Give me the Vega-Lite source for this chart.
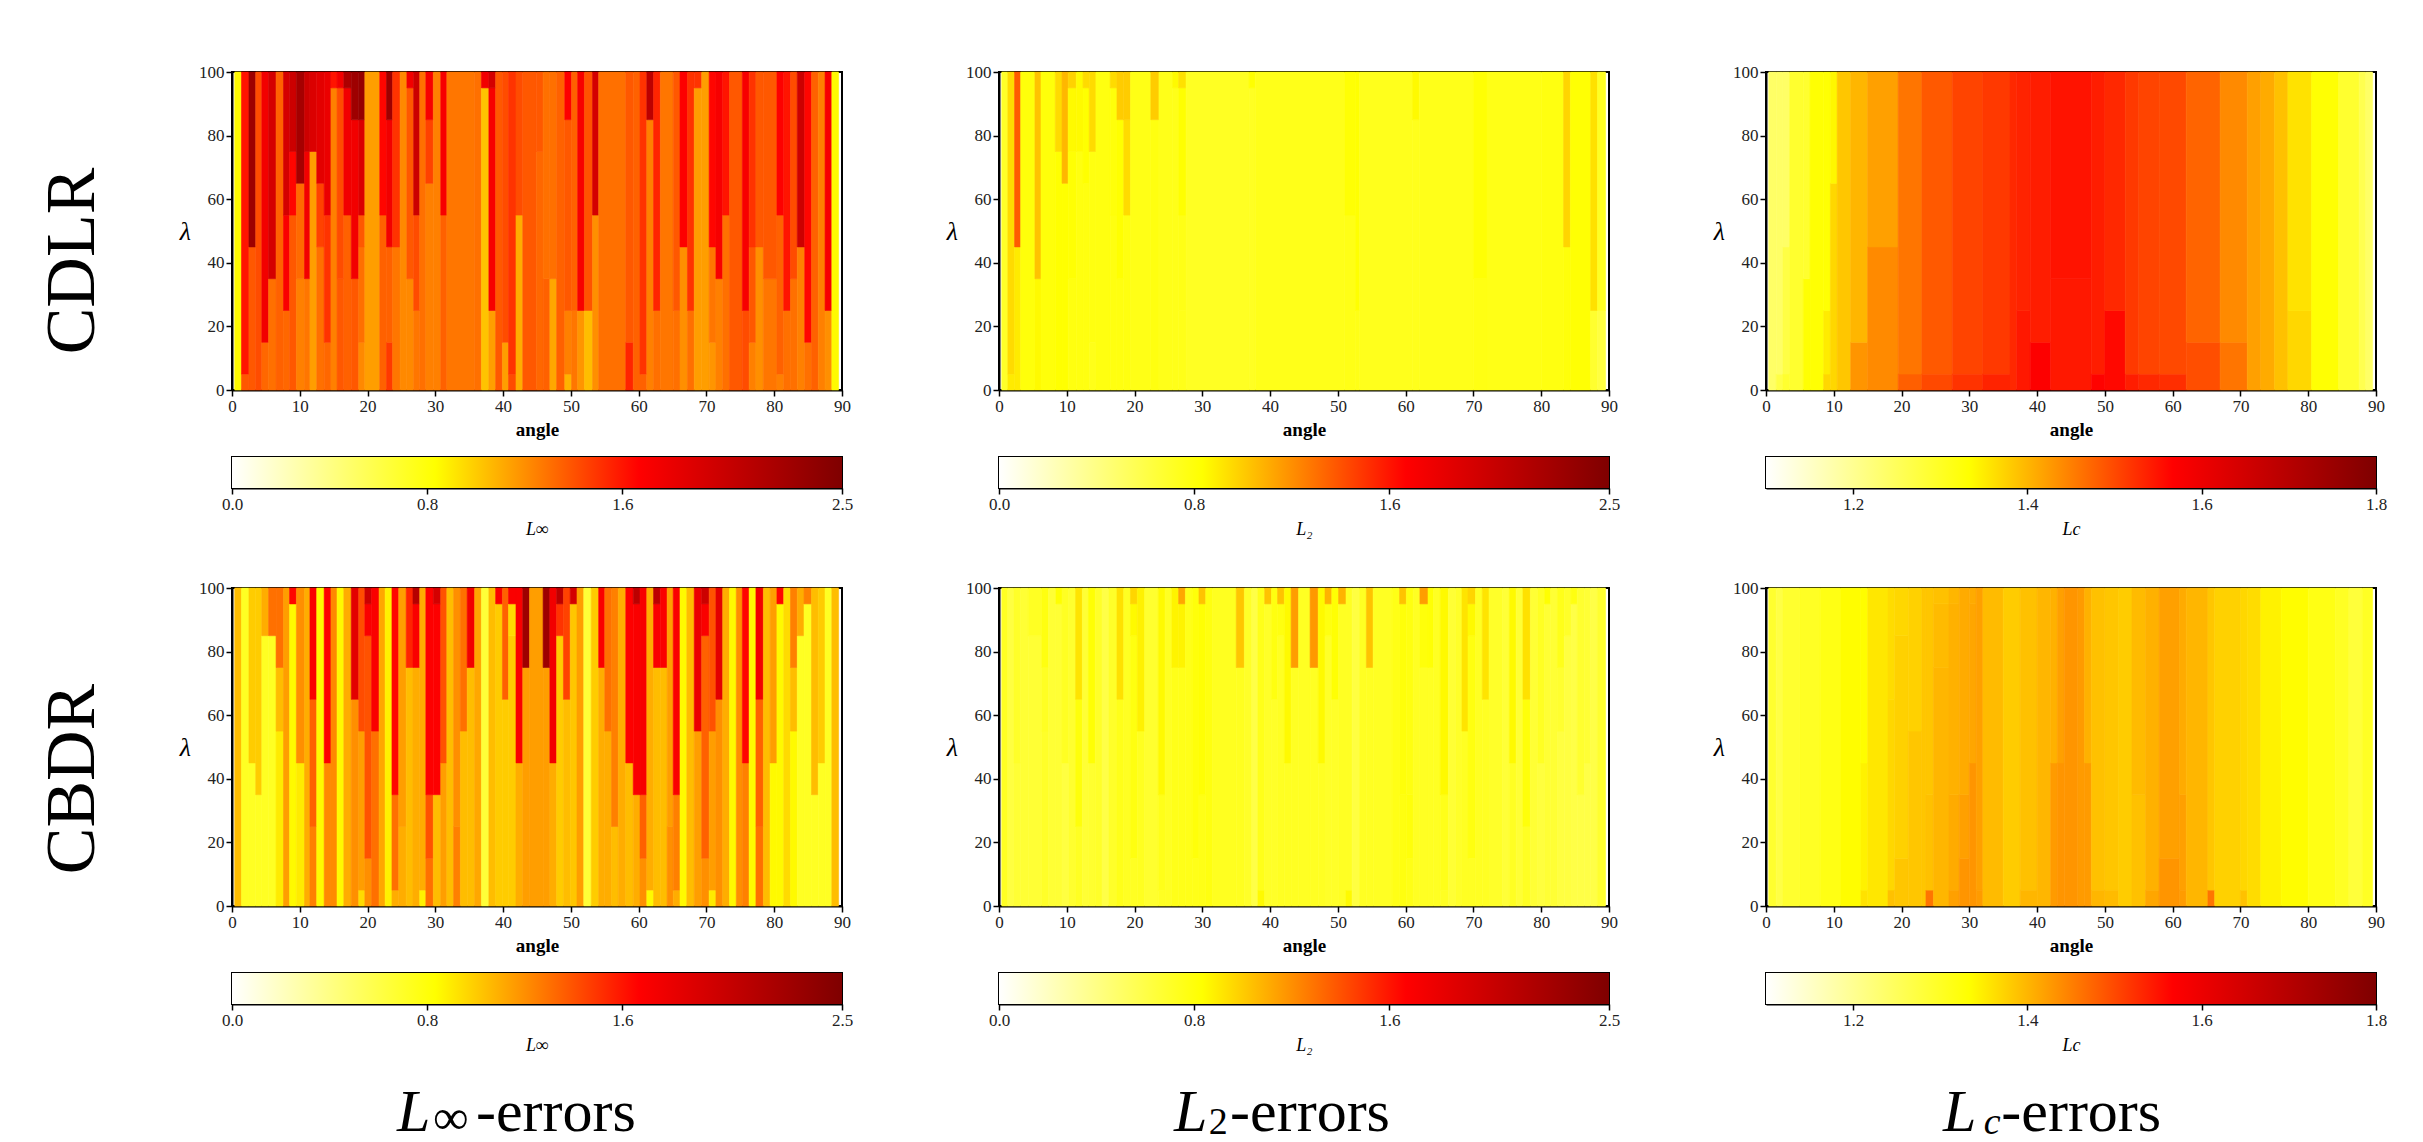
{"$schema":"https://vega.github.io/schema/vega-lite/v6.json","padding":{"left":37,"top":62,"right":0,"bottom":0},"background":"white","spacing":39,"resolve":{"scale":{"color":"independent","stroke":"independent"}},
"config":{"view":{"stroke":"black","strokeWidth":2},"font":"Liberation Serif","axis":{"grid":false,"labelFont":"Liberation Serif","titleFont":"Liberation Serif","labelFontSize":17,"labelColor":"#222222","domainColor":"black","domainWidth":2,"tickColor":"black","tickWidth":1.5,"tickSize":6,"labelOverlap":false,"labelFlush":false,"zindex":1},"title":{"font":"Liberation Serif"}},
"datasets":{
"A":[{"a":0.4,"b":1.4,"l":0,"h":100,"v":0.85},{"a":1.4,"b":2.5,"l":0,"h":5,"v":1.38},{"a":1.4,"b":2.5,"l":5,"h":100,"v":1.6},{"a":2.5,"b":3.5,"l":0,"h":45,"v":1.38},{"a":2.5,"b":3.5,"l":45,"h":100,"v":2.3},{"a":3.5,"b":4.4,"l":0,"h":100,"v":1.42},{"a":4.4,"b":5.4,"l":0,"h":15,"v":1.33},{"a":4.4,"b":5.4,"l":15,"h":100,"v":1.75},{"a":5.4,"b":6.5,"l":0,"h":35,"v":1.3},{"a":5.4,"b":6.5,"l":35,"h":100,"v":1.95},{"a":6.5,"b":7.6,"l":0,"h":100,"v":1.35},{"a":7.6,"b":8.5,"l":0,"h":25,"v":1.33},{"a":7.6,"b":8.5,"l":25,"h":55,"v":1.7},{"a":7.6,"b":8.5,"l":55,"h":100,"v":1.95},{"a":8.5,"b":9.5,"l":0,"h":55,"v":1.38},{"a":8.5,"b":9.5,"l":55,"h":75,"v":1.65},{"a":8.5,"b":9.5,"l":75,"h":100,"v":2.0},{"a":9.5,"b":10.7,"l":0,"h":35,"v":1.25},{"a":9.5,"b":10.7,"l":35,"h":65,"v":1.32},{"a":9.5,"b":10.7,"l":65,"h":100,"v":2.25},{"a":10.7,"b":11.5,"l":0,"h":35,"v":1.28},{"a":10.7,"b":11.5,"l":35,"h":75,"v":1.75},{"a":10.7,"b":11.5,"l":75,"h":100,"v":2.0},{"a":11.5,"b":12.5,"l":0,"h":75,"v":1.15},{"a":11.5,"b":12.5,"l":75,"h":100,"v":1.9},{"a":12.5,"b":13.6,"l":0,"h":45,"v":1.3},{"a":12.5,"b":13.6,"l":45,"h":65,"v":1.45},{"a":12.5,"b":13.6,"l":65,"h":100,"v":1.85},{"a":13.6,"b":14.6,"l":0,"h":15,"v":1.33},{"a":13.6,"b":14.6,"l":15,"h":55,"v":1.5},{"a":13.6,"b":14.6,"l":55,"h":100,"v":1.8},{"a":14.6,"b":15.5,"l":0,"h":95,"v":1.25},{"a":14.6,"b":15.5,"l":95,"h":100,"v":1.6},{"a":15.5,"b":16.5,"l":0,"h":35,"v":1.38},{"a":15.5,"b":16.5,"l":35,"h":95,"v":1.42},{"a":15.5,"b":16.5,"l":95,"h":100,"v":1.75},{"a":16.5,"b":17.6,"l":0,"h":55,"v":1.35},{"a":16.5,"b":17.6,"l":55,"h":95,"v":1.75},{"a":16.5,"b":17.6,"l":95,"h":100,"v":2.2},{"a":17.6,"b":18.7,"l":0,"h":35,"v":1.38},{"a":17.6,"b":18.7,"l":35,"h":85,"v":1.75},{"a":17.6,"b":18.7,"l":85,"h":100,"v":2.3},{"a":18.7,"b":19.6,"l":0,"h":15,"v":1.22},{"a":18.7,"b":19.6,"l":15,"h":45,"v":1.3},{"a":18.7,"b":19.6,"l":45,"h":55,"v":1.38},{"a":18.7,"b":19.6,"l":55,"h":85,"v":1.9},{"a":18.7,"b":19.6,"l":85,"h":100,"v":2.35},{"a":19.6,"b":21.8,"l":0,"h":100,"v":1.15},{"a":21.8,"b":22.8,"l":0,"h":55,"v":1.35},{"a":21.8,"b":22.8,"l":55,"h":100,"v":1.65},{"a":22.8,"b":23.7,"l":0,"h":15,"v":1.48},{"a":22.8,"b":23.7,"l":15,"h":45,"v":1.35},{"a":22.8,"b":23.7,"l":45,"h":85,"v":1.75},{"a":22.8,"b":23.7,"l":85,"h":100,"v":2.3},{"a":23.7,"b":24.8,"l":0,"h":45,"v":1.28},{"a":23.7,"b":24.8,"l":45,"h":100,"v":1.5},{"a":24.8,"b":25.8,"l":0,"h":100,"v":1.22},{"a":25.8,"b":26.8,"l":0,"h":35,"v":1.22},{"a":25.8,"b":26.8,"l":35,"h":95,"v":1.38},{"a":25.8,"b":26.8,"l":95,"h":100,"v":1.75},{"a":26.8,"b":27.7,"l":0,"h":25,"v":1.28},{"a":26.8,"b":27.7,"l":25,"h":55,"v":1.42},{"a":26.8,"b":27.7,"l":55,"h":100,"v":2.0},{"a":27.7,"b":28.6,"l":0,"h":100,"v":1.3},{"a":28.6,"b":29.7,"l":0,"h":65,"v":1.25},{"a":28.6,"b":29.7,"l":65,"h":85,"v":1.45},{"a":28.6,"b":29.7,"l":85,"h":100,"v":1.72},{"a":29.7,"b":30.8,"l":0,"h":100,"v":1.25},{"a":30.8,"b":31.7,"l":0,"h":55,"v":1.35},{"a":30.8,"b":31.7,"l":55,"h":100,"v":1.72},{"a":31.7,"b":35.8,"l":0,"h":100,"v":1.28},{"a":35.8,"b":36.8,"l":0,"h":100,"v":1.3},{"a":36.8,"b":37.9,"l":0,"h":95,"v":1.03},{"a":36.8,"b":37.9,"l":95,"h":100,"v":1.75},{"a":37.9,"b":38.9,"l":0,"h":25,"v":1.15},{"a":37.9,"b":38.9,"l":25,"h":95,"v":1.72},{"a":37.9,"b":38.9,"l":95,"h":100,"v":1.95},{"a":38.9,"b":39.9,"l":0,"h":100,"v":1.38},{"a":39.9,"b":40.8,"l":0,"h":15,"v":1.15},{"a":39.9,"b":40.8,"l":15,"h":100,"v":1.42},{"a":40.8,"b":41.9,"l":0,"h":5,"v":1.42},{"a":40.8,"b":41.9,"l":5,"h":100,"v":1.5},{"a":41.9,"b":42.9,"l":0,"h":55,"v":1.1},{"a":41.9,"b":42.9,"l":55,"h":100,"v":1.42},{"a":42.9,"b":44.9,"l":0,"h":100,"v":1.38},{"a":44.9,"b":45.9,"l":0,"h":75,"v":1.33},{"a":44.9,"b":45.9,"l":75,"h":100,"v":1.38},{"a":45.9,"b":46.9,"l":0,"h":35,"v":1.35},{"a":45.9,"b":46.9,"l":35,"h":100,"v":1.3},{"a":46.9,"b":47.9,"l":0,"h":35,"v":1.12},{"a":46.9,"b":47.9,"l":35,"h":100,"v":1.3},{"a":47.9,"b":49.1,"l":0,"h":100,"v":1.35},{"a":49.1,"b":50.1,"l":0,"h":5,"v":1.08},{"a":49.1,"b":50.1,"l":5,"h":25,"v":1.25},{"a":49.1,"b":50.1,"l":25,"h":85,"v":1.38},{"a":49.1,"b":50.1,"l":85,"h":100,"v":1.68},{"a":50.1,"b":51,"l":0,"h":25,"v":1.28},{"a":50.1,"b":51,"l":25,"h":100,"v":1.35},{"a":51,"b":52,"l":0,"h":25,"v":1.18},{"a":51,"b":52,"l":25,"h":100,"v":1.72},{"a":52,"b":53.2,"l":0,"h":25,"v":1.05},{"a":52,"b":53.2,"l":25,"h":100,"v":1.4},{"a":53.2,"b":54.1,"l":0,"h":55,"v":1.2},{"a":53.2,"b":54.1,"l":55,"h":100,"v":1.95},{"a":54.1,"b":58.1,"l":0,"h":100,"v":1.3},{"a":58.1,"b":59.2,"l":0,"h":15,"v":1.55},{"a":58.1,"b":59.2,"l":15,"h":100,"v":1.38},{"a":59.2,"b":60.2,"l":0,"h":100,"v":1.35},{"a":60.2,"b":61.2,"l":0,"h":5,"v":1.35},{"a":60.2,"b":61.2,"l":5,"h":100,"v":1.5},{"a":61.2,"b":62.2,"l":0,"h":85,"v":1.25},{"a":61.2,"b":62.2,"l":85,"h":100,"v":2.1},{"a":62.2,"b":63.2,"l":0,"h":25,"v":1.3},{"a":62.2,"b":63.2,"l":25,"h":100,"v":1.55},{"a":63.2,"b":65.1,"l":0,"h":100,"v":1.28},{"a":65.1,"b":66.1,"l":0,"h":25,"v":1.3},{"a":65.1,"b":66.1,"l":25,"h":100,"v":1.38},{"a":66.1,"b":67.2,"l":0,"h":45,"v":1.2},{"a":66.1,"b":67.2,"l":45,"h":100,"v":1.68},{"a":67.2,"b":68.2,"l":0,"h":25,"v":1.3},{"a":67.2,"b":68.2,"l":25,"h":100,"v":1.5},{"a":68.2,"b":69.3,"l":0,"h":95,"v":1.15},{"a":68.2,"b":69.3,"l":95,"h":100,"v":1.5},{"a":69.3,"b":70.4,"l":0,"h":100,"v":1.15},{"a":70.4,"b":71.4,"l":0,"h":15,"v":1.18},{"a":70.4,"b":71.4,"l":15,"h":45,"v":1.28},{"a":70.4,"b":71.4,"l":45,"h":100,"v":1.65},{"a":71.4,"b":72.4,"l":0,"h":35,"v":1.25},{"a":71.4,"b":72.4,"l":35,"h":100,"v":1.72},{"a":72.4,"b":73.4,"l":0,"h":55,"v":1.3},{"a":72.4,"b":73.4,"l":55,"h":100,"v":1.6},{"a":73.4,"b":75.3,"l":0,"h":100,"v":1.38},{"a":75.3,"b":76.3,"l":0,"h":25,"v":1.42},{"a":75.3,"b":76.3,"l":25,"h":100,"v":1.72},{"a":76.3,"b":77.3,"l":0,"h":15,"v":1.25},{"a":76.3,"b":77.3,"l":15,"h":45,"v":1.38},{"a":76.3,"b":77.3,"l":45,"h":100,"v":1.5},{"a":77.3,"b":78.4,"l":0,"h":45,"v":1.2},{"a":77.3,"b":78.4,"l":45,"h":100,"v":1.38},{"a":78.4,"b":80.4,"l":0,"h":35,"v":1.28},{"a":78.4,"b":80.4,"l":35,"h":100,"v":1.38},{"a":80.4,"b":81.4,"l":0,"h":5,"v":1.25},{"a":80.4,"b":81.4,"l":5,"h":55,"v":1.35},{"a":80.4,"b":81.4,"l":55,"h":100,"v":1.68},{"a":81.4,"b":82.4,"l":0,"h":25,"v":1.3},{"a":81.4,"b":82.4,"l":25,"h":100,"v":1.6},{"a":82.4,"b":83.4,"l":0,"h":35,"v":1.3},{"a":82.4,"b":83.4,"l":35,"h":100,"v":1.42},{"a":83.4,"b":84.5,"l":0,"h":45,"v":1.25},{"a":83.4,"b":84.5,"l":45,"h":100,"v":2.0},{"a":84.5,"b":85.5,"l":0,"h":15,"v":1.3},{"a":84.5,"b":85.5,"l":15,"h":100,"v":1.65},{"a":85.5,"b":86.5,"l":0,"h":100,"v":1.35},{"a":86.5,"b":87.5,"l":0,"h":100,"v":1.25},{"a":87.5,"b":88.5,"l":0,"h":25,"v":1.2},{"a":87.5,"b":88.5,"l":25,"h":100,"v":1.72},{"a":88.5,"b":89.5,"l":0,"h":100,"v":0.85}],
"B":[{"a":0.4,"b":1.3,"l":0,"h":100,"v":0.7},{"a":1.3,"b":2.3,"l":0,"h":5,"v":0.9},{"a":1.3,"b":2.3,"l":5,"h":100,"v":0.95},{"a":2.3,"b":3.2,"l":0,"h":45,"v":0.9},{"a":2.3,"b":3.2,"l":45,"h":100,"v":1.37},{"a":3.2,"b":5.3,"l":0,"h":100,"v":0.8},{"a":5.3,"b":6.2,"l":0,"h":35,"v":0.85},{"a":5.3,"b":6.2,"l":35,"h":100,"v":1.03},{"a":6.2,"b":8.3,"l":0,"h":100,"v":0.8},{"a":8.3,"b":9.3,"l":0,"h":75,"v":0.83},{"a":8.3,"b":9.3,"l":75,"h":100,"v":0.95},{"a":9.3,"b":10.2,"l":0,"h":65,"v":0.83},{"a":9.3,"b":10.2,"l":65,"h":100,"v":1.07},{"a":10.2,"b":11.4,"l":0,"h":35,"v":0.78},{"a":10.2,"b":11.4,"l":35,"h":75,"v":0.82},{"a":10.2,"b":11.4,"l":75,"h":95,"v":0.85},{"a":10.2,"b":11.4,"l":95,"h":100,"v":0.98},{"a":11.4,"b":12.4,"l":0,"h":75,"v":0.78},{"a":11.4,"b":12.4,"l":75,"h":100,"v":0.85},{"a":12.4,"b":13.3,"l":0,"h":65,"v":0.78},{"a":12.4,"b":13.3,"l":65,"h":95,"v":0.83},{"a":12.4,"b":13.3,"l":95,"h":100,"v":0.95},{"a":13.3,"b":14.3,"l":0,"h":15,"v":0.75},{"a":13.3,"b":14.3,"l":15,"h":75,"v":0.78},{"a":13.3,"b":14.3,"l":75,"h":100,"v":0.95},{"a":14.3,"b":16.4,"l":0,"h":100,"v":0.78},{"a":16.4,"b":17.4,"l":0,"h":55,"v":0.78},{"a":16.4,"b":17.4,"l":55,"h":95,"v":0.8},{"a":16.4,"b":17.4,"l":95,"h":100,"v":0.95},{"a":17.4,"b":18.4,"l":0,"h":35,"v":0.78},{"a":17.4,"b":18.4,"l":35,"h":85,"v":0.83},{"a":17.4,"b":18.4,"l":85,"h":100,"v":1.0},{"a":18.4,"b":19.4,"l":0,"h":55,"v":0.78},{"a":18.4,"b":19.4,"l":55,"h":85,"v":0.95},{"a":18.4,"b":19.4,"l":85,"h":100,"v":1.0},{"a":19.4,"b":22.4,"l":0,"h":100,"v":0.76},{"a":22.4,"b":23.6,"l":0,"h":85,"v":0.78},{"a":22.4,"b":23.6,"l":85,"h":100,"v":1.0},{"a":23.6,"b":25.6,"l":0,"h":100,"v":0.75},{"a":25.6,"b":26.5,"l":0,"h":95,"v":0.75},{"a":25.6,"b":26.5,"l":95,"h":100,"v":0.85},{"a":26.5,"b":27.6,"l":0,"h":25,"v":0.75},{"a":26.5,"b":27.6,"l":25,"h":55,"v":0.76},{"a":26.5,"b":27.6,"l":55,"h":95,"v":0.83},{"a":26.5,"b":27.6,"l":95,"h":100,"v":0.93},{"a":27.6,"b":36.9,"l":0,"h":100,"v":0.72},{"a":36.9,"b":37.8,"l":0,"h":95,"v":0.72},{"a":36.9,"b":37.8,"l":95,"h":100,"v":0.83},{"a":37.8,"b":51,"l":0,"h":100,"v":0.75},{"a":51,"b":52.6,"l":0,"h":55,"v":0.76},{"a":51,"b":52.6,"l":55,"h":100,"v":0.82},{"a":52.6,"b":53.2,"l":0,"h":25,"v":0.76},{"a":52.6,"b":53.2,"l":25,"h":100,"v":0.83},{"a":53.2,"b":61,"l":0,"h":100,"v":0.74},{"a":61,"b":62,"l":0,"h":85,"v":0.74},{"a":61,"b":62,"l":85,"h":100,"v":0.85},{"a":62,"b":70,"l":0,"h":100,"v":0.75},{"a":70,"b":72,"l":0,"h":35,"v":0.77},{"a":70,"b":72,"l":35,"h":100,"v":0.82},{"a":72,"b":80,"l":0,"h":100,"v":0.76},{"a":80,"b":83.3,"l":0,"h":100,"v":0.78},{"a":83.3,"b":84.3,"l":0,"h":45,"v":0.8},{"a":83.3,"b":84.3,"l":45,"h":100,"v":0.97},{"a":84.3,"b":87.3,"l":0,"h":100,"v":0.82},{"a":87.3,"b":88.3,"l":0,"h":25,"v":0.68},{"a":87.3,"b":88.3,"l":25,"h":100,"v":0.93},{"a":88.3,"b":89.5,"l":0,"h":25,"v":0.62},{"a":88.3,"b":89.5,"l":25,"h":100,"v":0.72}],
"C":[{"a":0.4,"b":1.5,"l":0,"h":100,"v":1.24},{"a":1.5,"b":2.5,"l":0,"h":5,"v":1.27},{"a":1.5,"b":2.5,"l":5,"h":100,"v":1.24},{"a":2.5,"b":3.5,"l":0,"h":5,"v":1.29},{"a":2.5,"b":3.5,"l":5,"h":45,"v":1.27},{"a":2.5,"b":3.5,"l":45,"h":100,"v":1.24},{"a":3.5,"b":5.5,"l":0,"h":100,"v":1.29},{"a":5.5,"b":6.5,"l":0,"h":35,"v":1.33},{"a":5.5,"b":6.5,"l":35,"h":100,"v":1.29},{"a":6.5,"b":8.5,"l":0,"h":100,"v":1.33},{"a":8.5,"b":9.5,"l":0,"h":5,"v":1.37},{"a":8.5,"b":9.5,"l":5,"h":25,"v":1.35},{"a":8.5,"b":9.5,"l":25,"h":100,"v":1.33},{"a":9.5,"b":10.5,"l":0,"h":65,"v":1.37},{"a":9.5,"b":10.5,"l":65,"h":100,"v":1.34},{"a":10.5,"b":12.5,"l":0,"h":100,"v":1.385},{"a":12.5,"b":15,"l":0,"h":15,"v":1.43},{"a":12.5,"b":15,"l":15,"h":100,"v":1.4},{"a":15,"b":19.5,"l":0,"h":45,"v":1.44},{"a":15,"b":19.5,"l":45,"h":100,"v":1.42},{"a":19.5,"b":23,"l":0,"h":5,"v":1.48},{"a":19.5,"b":23,"l":5,"h":100,"v":1.46},{"a":23,"b":27.5,"l":0,"h":5,"v":1.5},{"a":23,"b":27.5,"l":5,"h":100,"v":1.485},{"a":27.5,"b":32,"l":0,"h":5,"v":1.52},{"a":27.5,"b":32,"l":5,"h":100,"v":1.505},{"a":32,"b":36,"l":0,"h":5,"v":1.535},{"a":32,"b":36,"l":5,"h":100,"v":1.515},{"a":36,"b":37,"l":0,"h":100,"v":1.53},{"a":37,"b":39,"l":0,"h":25,"v":1.545},{"a":37,"b":39,"l":25,"h":100,"v":1.535},{"a":39,"b":42,"l":0,"h":15,"v":1.57},{"a":39,"b":42,"l":15,"h":100,"v":1.54},{"a":42,"b":48,"l":0,"h":35,"v":1.545},{"a":42,"b":48,"l":35,"h":100,"v":1.55},{"a":48,"b":50,"l":0,"h":5,"v":1.565},{"a":48,"b":50,"l":5,"h":100,"v":1.54},{"a":50,"b":53,"l":0,"h":25,"v":1.56},{"a":50,"b":53,"l":25,"h":100,"v":1.53},{"a":53,"b":55,"l":0,"h":5,"v":1.54},{"a":53,"b":55,"l":5,"h":100,"v":1.515},{"a":55,"b":58,"l":0,"h":5,"v":1.53},{"a":55,"b":58,"l":5,"h":100,"v":1.505},{"a":58,"b":62,"l":0,"h":5,"v":1.525},{"a":58,"b":62,"l":5,"h":100,"v":1.5},{"a":62,"b":67,"l":0,"h":15,"v":1.495},{"a":62,"b":67,"l":15,"h":100,"v":1.475},{"a":67,"b":71,"l":0,"h":15,"v":1.46},{"a":67,"b":71,"l":15,"h":100,"v":1.44},{"a":71,"b":73,"l":0,"h":100,"v":1.42},{"a":73,"b":75,"l":0,"h":100,"v":1.41},{"a":75,"b":77,"l":0,"h":100,"v":1.39},{"a":77,"b":80.5,"l":0,"h":25,"v":1.37},{"a":77,"b":80.5,"l":25,"h":100,"v":1.36},{"a":80.5,"b":84.5,"l":0,"h":100,"v":1.33},{"a":84.5,"b":87.5,"l":0,"h":100,"v":1.29},{"a":87.5,"b":88.5,"l":0,"h":100,"v":1.26},{"a":88.5,"b":89.5,"l":0,"h":100,"v":1.24}],
"D":[{"a":0.4,"b":1.4,"l":0,"h":100,"v":1.05},{"a":1.4,"b":2.5,"l":0,"h":100,"v":0.72},{"a":2.5,"b":3.5,"l":0,"h":45,"v":0.72},{"a":2.5,"b":3.5,"l":45,"h":100,"v":1.0},{"a":3.5,"b":4.4,"l":0,"h":35,"v":0.72},{"a":3.5,"b":4.4,"l":35,"h":100,"v":1.0},{"a":4.4,"b":5.4,"l":0,"h":85,"v":0.72},{"a":4.4,"b":5.4,"l":85,"h":100,"v":1.1},{"a":5.4,"b":6.5,"l":0,"h":85,"v":0.72},{"a":5.4,"b":6.5,"l":85,"h":100,"v":1.3},{"a":6.5,"b":7.6,"l":0,"h":55,"v":0.9},{"a":6.5,"b":7.6,"l":55,"h":75,"v":1.05},{"a":6.5,"b":7.6,"l":75,"h":100,"v":1.3},{"a":7.6,"b":8.5,"l":0,"h":100,"v":1.15},{"a":8.5,"b":9.5,"l":0,"h":95,"v":0.85},{"a":8.5,"b":9.5,"l":95,"h":100,"v":1.65},{"a":9.5,"b":10.7,"l":0,"h":45,"v":0.9},{"a":9.5,"b":10.7,"l":45,"h":100,"v":1.2},{"a":10.7,"b":11.5,"l":0,"h":100,"v":1.1},{"a":11.5,"b":12.5,"l":0,"h":25,"v":1.25},{"a":11.5,"b":12.5,"l":25,"h":65,"v":1.35},{"a":11.5,"b":12.5,"l":65,"h":100,"v":1.7},{"a":12.5,"b":13.6,"l":0,"h":100,"v":0.85},{"a":13.6,"b":14.6,"l":0,"h":45,"v":1.22},{"a":13.6,"b":14.6,"l":45,"h":100,"v":1.68},{"a":14.6,"b":15.5,"l":0,"h":100,"v":1.22},{"a":15.5,"b":16.5,"l":0,"h":100,"v":0.85},{"a":16.5,"b":17.6,"l":0,"h":100,"v":1.1},{"a":17.6,"b":18.7,"l":0,"h":65,"v":1.2},{"a":17.6,"b":18.7,"l":65,"h":100,"v":1.85},{"a":18.7,"b":19.6,"l":0,"h":5,"v":0.95},{"a":18.7,"b":19.6,"l":5,"h":55,"v":1.15},{"a":18.7,"b":19.6,"l":55,"h":100,"v":1.42},{"a":19.6,"b":20.6,"l":0,"h":15,"v":1.2},{"a":19.6,"b":20.6,"l":15,"h":85,"v":1.4},{"a":19.6,"b":20.6,"l":85,"h":95,"v":1.7},{"a":19.6,"b":20.6,"l":95,"h":100,"v":2.0},{"a":20.6,"b":21.7,"l":0,"h":55,"v":1.3},{"a":20.6,"b":21.7,"l":55,"h":100,"v":1.7},{"a":21.7,"b":22.6,"l":0,"h":100,"v":1.12},{"a":22.6,"b":23.6,"l":0,"h":100,"v":0.88},{"a":23.6,"b":24.6,"l":0,"h":5,"v":1.1},{"a":23.6,"b":24.6,"l":5,"h":35,"v":1.3},{"a":23.6,"b":24.6,"l":35,"h":100,"v":1.65},{"a":24.6,"b":25.7,"l":0,"h":25,"v":1.1},{"a":24.6,"b":25.7,"l":25,"h":100,"v":1.15},{"a":25.7,"b":26.7,"l":0,"h":75,"v":1.05},{"a":25.7,"b":26.7,"l":75,"h":100,"v":1.55},{"a":26.7,"b":27.7,"l":0,"h":75,"v":1.1},{"a":26.7,"b":27.7,"l":75,"h":95,"v":1.7},{"a":26.7,"b":27.7,"l":95,"h":100,"v":2.15},{"a":27.7,"b":28.6,"l":0,"h":5,"v":0.88},{"a":27.7,"b":28.6,"l":5,"h":100,"v":1.1},{"a":28.6,"b":29.7,"l":0,"h":15,"v":1.3},{"a":28.6,"b":29.7,"l":15,"h":35,"v":1.4},{"a":28.6,"b":29.7,"l":35,"h":100,"v":1.68},{"a":29.7,"b":30.8,"l":0,"h":35,"v":1.05},{"a":29.7,"b":30.8,"l":35,"h":95,"v":1.68},{"a":29.7,"b":30.8,"l":95,"h":100,"v":1.95},{"a":30.8,"b":31.7,"l":0,"h":45,"v":1.15},{"a":30.8,"b":31.7,"l":45,"h":100,"v":1.4},{"a":31.7,"b":32.7,"l":0,"h":100,"v":1.05},{"a":32.7,"b":33.7,"l":0,"h":25,"v":1.25},{"a":32.7,"b":33.7,"l":25,"h":100,"v":1.2},{"a":33.7,"b":34.7,"l":0,"h":55,"v":1.05},{"a":33.7,"b":34.7,"l":55,"h":100,"v":1.3},{"a":34.7,"b":35.8,"l":0,"h":75,"v":1.05},{"a":34.7,"b":35.8,"l":75,"h":100,"v":1.75},{"a":35.8,"b":36.8,"l":0,"h":100,"v":1.12},{"a":36.8,"b":37.9,"l":0,"h":100,"v":0.65},{"a":37.9,"b":38.9,"l":0,"h":100,"v":1.05},{"a":38.9,"b":39.9,"l":0,"h":95,"v":1.0},{"a":38.9,"b":39.9,"l":95,"h":100,"v":1.7},{"a":39.9,"b":40.8,"l":0,"h":65,"v":1.0},{"a":39.9,"b":40.8,"l":65,"h":100,"v":1.35},{"a":40.8,"b":41.9,"l":0,"h":85,"v":1.0},{"a":40.8,"b":41.9,"l":85,"h":95,"v":0.95},{"a":40.8,"b":41.9,"l":95,"h":100,"v":1.7},{"a":41.9,"b":42.9,"l":0,"h":45,"v":1.1},{"a":41.9,"b":42.9,"l":45,"h":100,"v":1.7},{"a":42.9,"b":43.9,"l":0,"h":75,"v":1.15},{"a":42.9,"b":43.9,"l":75,"h":100,"v":2.3},{"a":43.9,"b":45.9,"l":0,"h":100,"v":1.15},{"a":45.9,"b":46.9,"l":0,"h":75,"v":1.15},{"a":45.9,"b":46.9,"l":75,"h":100,"v":2.3},{"a":46.9,"b":47.9,"l":0,"h":45,"v":1.1},{"a":46.9,"b":47.9,"l":45,"h":100,"v":1.75},{"a":47.9,"b":48.9,"l":0,"h":85,"v":1.0},{"a":47.9,"b":48.9,"l":85,"h":95,"v":1.5},{"a":47.9,"b":48.9,"l":95,"h":100,"v":2.1},{"a":48.9,"b":49.9,"l":0,"h":65,"v":1.05},{"a":48.9,"b":49.9,"l":65,"h":100,"v":1.45},{"a":49.9,"b":50.9,"l":0,"h":95,"v":1.02},{"a":49.9,"b":50.9,"l":95,"h":100,"v":1.95},{"a":50.9,"b":51.9,"l":0,"h":100,"v":1.15},{"a":51.9,"b":53,"l":0,"h":100,"v":0.65},{"a":53,"b":54.1,"l":0,"h":100,"v":1.0},{"a":54.1,"b":55,"l":0,"h":75,"v":1.1},{"a":54.1,"b":55,"l":75,"h":100,"v":1.7},{"a":55,"b":56,"l":0,"h":55,"v":1.1},{"a":55,"b":56,"l":55,"h":100,"v":1.3},{"a":56,"b":57,"l":0,"h":25,"v":1.05},{"a":56,"b":57,"l":25,"h":100,"v":1.25},{"a":57,"b":58.1,"l":0,"h":100,"v":1.1},{"a":58.1,"b":59.2,"l":0,"h":45,"v":1.05},{"a":58.1,"b":59.2,"l":45,"h":100,"v":1.68},{"a":59.2,"b":60.2,"l":0,"h":35,"v":1.1},{"a":59.2,"b":60.2,"l":35,"h":95,"v":1.7},{"a":59.2,"b":60.2,"l":95,"h":100,"v":2.1},{"a":60.2,"b":61.2,"l":0,"h":15,"v":1.2},{"a":60.2,"b":61.2,"l":15,"h":35,"v":1.35},{"a":60.2,"b":61.2,"l":35,"h":100,"v":1.72},{"a":61.2,"b":62.2,"l":0,"h":5,"v":0.85},{"a":61.2,"b":62.2,"l":5,"h":100,"v":1.1},{"a":62.2,"b":63.2,"l":0,"h":75,"v":1.05},{"a":62.2,"b":63.2,"l":75,"h":95,"v":1.7},{"a":62.2,"b":63.2,"l":95,"h":100,"v":2.1},{"a":63.2,"b":64.2,"l":0,"h":75,"v":1.05},{"a":63.2,"b":64.2,"l":75,"h":100,"v":1.7},{"a":64.2,"b":65.1,"l":0,"h":25,"v":1.2},{"a":64.2,"b":65.1,"l":25,"h":100,"v":1.15},{"a":65.1,"b":66.1,"l":0,"h":5,"v":1.1},{"a":65.1,"b":66.1,"l":5,"h":35,"v":1.25},{"a":65.1,"b":66.1,"l":35,"h":100,"v":1.7},{"a":66.1,"b":67.1,"l":0,"h":100,"v":0.85},{"a":67.1,"b":68.2,"l":0,"h":100,"v":1.05},{"a":68.2,"b":69.3,"l":0,"h":55,"v":1.15},{"a":68.2,"b":69.3,"l":55,"h":100,"v":1.8},{"a":69.3,"b":70.4,"l":0,"h":15,"v":1.2},{"a":69.3,"b":70.4,"l":15,"h":85,"v":1.35},{"a":69.3,"b":70.4,"l":85,"h":95,"v":1.7},{"a":69.3,"b":70.4,"l":95,"h":100,"v":2.0},{"a":70.4,"b":71.4,"l":0,"h":5,"v":0.9},{"a":70.4,"b":71.4,"l":5,"h":55,"v":1.15},{"a":70.4,"b":71.4,"l":55,"h":100,"v":1.4},{"a":71.4,"b":72.4,"l":0,"h":65,"v":1.2},{"a":71.4,"b":72.4,"l":65,"h":100,"v":1.85},{"a":72.4,"b":73.4,"l":0,"h":100,"v":1.1},{"a":73.4,"b":74.4,"l":0,"h":100,"v":0.85},{"a":74.4,"b":75.3,"l":0,"h":100,"v":1.2},{"a":75.3,"b":76.3,"l":0,"h":45,"v":1.25},{"a":75.3,"b":76.3,"l":45,"h":100,"v":1.65},{"a":76.3,"b":77.3,"l":0,"h":100,"v":0.85},{"a":77.3,"b":78.4,"l":0,"h":25,"v":1.3},{"a":77.3,"b":78.4,"l":25,"h":65,"v":1.35},{"a":77.3,"b":78.4,"l":65,"h":100,"v":1.75},{"a":78.4,"b":79.4,"l":0,"h":100,"v":1.05},{"a":79.4,"b":80.4,"l":0,"h":45,"v":0.85},{"a":79.4,"b":80.4,"l":45,"h":100,"v":1.15},{"a":80.4,"b":81.4,"l":0,"h":95,"v":0.85},{"a":80.4,"b":81.4,"l":95,"h":100,"v":1.65},{"a":81.4,"b":82.4,"l":0,"h":100,"v":0.95},{"a":82.4,"b":83.4,"l":0,"h":55,"v":0.85},{"a":82.4,"b":83.4,"l":55,"h":75,"v":1.05},{"a":82.4,"b":83.4,"l":75,"h":100,"v":1.25},{"a":83.4,"b":84.4,"l":0,"h":85,"v":0.72},{"a":83.4,"b":84.4,"l":85,"h":100,"v":1.1},{"a":84.4,"b":85.5,"l":0,"h":95,"v":0.72},{"a":84.4,"b":85.5,"l":95,"h":100,"v":1.25},{"a":85.5,"b":86.5,"l":0,"h":35,"v":0.72},{"a":85.5,"b":86.5,"l":35,"h":100,"v":1.05},{"a":86.5,"b":87.5,"l":0,"h":45,"v":0.72},{"a":86.5,"b":87.5,"l":45,"h":100,"v":1.0},{"a":87.5,"b":88.5,"l":0,"h":100,"v":0.72},{"a":88.5,"b":89.5,"l":0,"h":100,"v":1.05}],
"E":[{"a":0.4,"b":1.3,"l":0,"h":100,"v":0.72},{"a":1.3,"b":2.2,"l":0,"h":100,"v":0.62},{"a":2.2,"b":3.2,"l":0,"h":45,"v":0.66},{"a":2.2,"b":3.2,"l":45,"h":100,"v":0.7},{"a":3.2,"b":4.3,"l":0,"h":100,"v":0.66},{"a":4.3,"b":6.3,"l":0,"h":85,"v":0.66},{"a":4.3,"b":6.3,"l":85,"h":100,"v":0.72},{"a":6.3,"b":7.3,"l":0,"h":55,"v":0.7},{"a":6.3,"b":7.3,"l":55,"h":75,"v":0.72},{"a":6.3,"b":7.3,"l":75,"h":100,"v":0.78},{"a":7.3,"b":8.4,"l":0,"h":100,"v":0.66},{"a":8.4,"b":9.3,"l":0,"h":95,"v":0.66},{"a":8.4,"b":9.3,"l":95,"h":100,"v":0.83},{"a":9.3,"b":10.3,"l":0,"h":45,"v":0.62},{"a":9.3,"b":10.3,"l":45,"h":100,"v":0.72},{"a":10.3,"b":11.3,"l":0,"h":100,"v":0.68},{"a":11.3,"b":12.3,"l":0,"h":25,"v":0.72},{"a":11.3,"b":12.3,"l":25,"h":65,"v":0.8},{"a":11.3,"b":12.3,"l":65,"h":100,"v":0.92},{"a":12.3,"b":13.2,"l":0,"h":100,"v":0.66},{"a":13.2,"b":14.2,"l":0,"h":45,"v":0.68},{"a":13.2,"b":14.2,"l":45,"h":100,"v":0.82},{"a":14.2,"b":15.2,"l":0,"h":100,"v":0.7},{"a":15.2,"b":16.2,"l":0,"h":100,"v":0.6},{"a":16.2,"b":17.4,"l":0,"h":100,"v":0.7},{"a":17.4,"b":18.4,"l":0,"h":65,"v":0.75},{"a":17.4,"b":18.4,"l":65,"h":100,"v":0.93},{"a":18.4,"b":19.4,"l":0,"h":100,"v":0.72},{"a":19.4,"b":20.4,"l":0,"h":15,"v":0.72},{"a":19.4,"b":20.4,"l":15,"h":85,"v":0.78},{"a":19.4,"b":20.4,"l":85,"h":95,"v":0.85},{"a":19.4,"b":20.4,"l":95,"h":100,"v":0.97},{"a":20.4,"b":21.5,"l":0,"h":55,"v":0.73},{"a":20.4,"b":21.5,"l":55,"h":100,"v":0.88},{"a":21.5,"b":23.5,"l":0,"h":100,"v":0.68},{"a":23.5,"b":24.5,"l":0,"h":5,"v":0.72},{"a":23.5,"b":24.5,"l":5,"h":35,"v":0.75},{"a":23.5,"b":24.5,"l":35,"h":100,"v":0.85},{"a":24.5,"b":25.5,"l":0,"h":100,"v":0.72},{"a":25.5,"b":26.5,"l":0,"h":75,"v":0.75},{"a":25.5,"b":26.5,"l":75,"h":100,"v":0.87},{"a":26.5,"b":27.5,"l":0,"h":75,"v":0.75},{"a":26.5,"b":27.5,"l":75,"h":95,"v":0.87},{"a":26.5,"b":27.5,"l":95,"h":100,"v":1.12},{"a":27.5,"b":28.5,"l":0,"h":100,"v":0.75},{"a":28.5,"b":29.5,"l":0,"h":15,"v":0.75},{"a":28.5,"b":29.5,"l":15,"h":100,"v":0.8},{"a":29.5,"b":30.5,"l":0,"h":35,"v":0.76},{"a":29.5,"b":30.5,"l":35,"h":95,"v":0.82},{"a":29.5,"b":30.5,"l":95,"h":100,"v":1.03},{"a":30.5,"b":31.5,"l":0,"h":100,"v":0.78},{"a":31.5,"b":35,"l":0,"h":100,"v":0.73},{"a":35,"b":36.2,"l":0,"h":75,"v":0.73},{"a":35,"b":36.2,"l":75,"h":100,"v":1.02},{"a":36.2,"b":37.3,"l":0,"h":100,"v":0.7},{"a":37.3,"b":38.2,"l":0,"h":100,"v":0.6},{"a":38.2,"b":39.2,"l":0,"h":5,"v":0.85},{"a":38.2,"b":39.2,"l":5,"h":100,"v":0.75},{"a":39.2,"b":40.2,"l":0,"h":95,"v":0.7},{"a":39.2,"b":40.2,"l":95,"h":100,"v":1.03},{"a":40.2,"b":41.1,"l":0,"h":65,"v":0.7},{"a":40.2,"b":41.1,"l":65,"h":100,"v":0.78},{"a":41.1,"b":42.1,"l":0,"h":85,"v":0.72},{"a":41.1,"b":42.1,"l":85,"h":95,"v":0.78},{"a":41.1,"b":42.1,"l":95,"h":100,"v":1.03},{"a":42.1,"b":43.1,"l":0,"h":45,"v":0.72},{"a":42.1,"b":43.1,"l":45,"h":100,"v":0.85},{"a":43.1,"b":44.2,"l":0,"h":75,"v":0.72},{"a":43.1,"b":44.2,"l":75,"h":100,"v":1.15},{"a":44.2,"b":45.9,"l":0,"h":100,"v":0.72},{"a":45.9,"b":47.1,"l":0,"h":75,"v":0.72},{"a":45.9,"b":47.1,"l":75,"h":100,"v":1.17},{"a":47.1,"b":48.1,"l":0,"h":45,"v":0.72},{"a":47.1,"b":48.1,"l":45,"h":100,"v":0.85},{"a":48.1,"b":49.1,"l":0,"h":85,"v":0.7},{"a":48.1,"b":49.1,"l":85,"h":95,"v":0.78},{"a":48.1,"b":49.1,"l":95,"h":100,"v":1.08},{"a":49.1,"b":50.1,"l":0,"h":65,"v":0.7},{"a":49.1,"b":50.1,"l":65,"h":100,"v":0.82},{"a":50.1,"b":51.2,"l":0,"h":95,"v":0.72},{"a":50.1,"b":51.2,"l":95,"h":100,"v":1.08},{"a":51.2,"b":52.1,"l":0,"h":5,"v":0.85},{"a":51.2,"b":52.1,"l":5,"h":100,"v":0.72},{"a":52.1,"b":53.2,"l":0,"h":100,"v":0.62},{"a":53.2,"b":54.2,"l":0,"h":100,"v":0.72},{"a":54.2,"b":55.2,"l":0,"h":75,"v":0.72},{"a":54.2,"b":55.2,"l":75,"h":100,"v":1.03},{"a":55.2,"b":58,"l":0,"h":100,"v":0.72},{"a":58,"b":59.1,"l":0,"h":100,"v":0.76},{"a":59.1,"b":60.1,"l":0,"h":35,"v":0.78},{"a":59.1,"b":60.1,"l":35,"h":95,"v":0.8},{"a":59.1,"b":60.1,"l":95,"h":100,"v":1.03},{"a":60.1,"b":61.1,"l":0,"h":15,"v":0.76},{"a":60.1,"b":61.1,"l":15,"h":35,"v":0.8},{"a":60.1,"b":61.1,"l":35,"h":100,"v":0.78},{"a":61.1,"b":62.1,"l":0,"h":100,"v":0.72},{"a":62.1,"b":63.3,"l":0,"h":75,"v":0.72},{"a":62.1,"b":63.3,"l":75,"h":95,"v":0.8},{"a":62.1,"b":63.3,"l":95,"h":100,"v":1.15},{"a":63.3,"b":64.1,"l":0,"h":75,"v":0.72},{"a":63.3,"b":64.1,"l":75,"h":100,"v":0.82},{"a":64.1,"b":65.1,"l":0,"h":100,"v":0.72},{"a":65.1,"b":66.3,"l":0,"h":5,"v":0.72},{"a":65.1,"b":66.3,"l":5,"h":35,"v":0.75},{"a":65.1,"b":66.3,"l":35,"h":100,"v":0.85},{"a":66.3,"b":67.4,"l":0,"h":100,"v":0.66},{"a":67.4,"b":68.3,"l":0,"h":100,"v":0.7},{"a":68.3,"b":69.2,"l":0,"h":55,"v":0.72},{"a":68.3,"b":69.2,"l":55,"h":100,"v":0.92},{"a":69.2,"b":70.3,"l":0,"h":15,"v":0.72},{"a":69.2,"b":70.3,"l":15,"h":85,"v":0.78},{"a":69.2,"b":70.3,"l":85,"h":95,"v":0.85},{"a":69.2,"b":70.3,"l":95,"h":100,"v":0.97},{"a":70.3,"b":71.3,"l":0,"h":100,"v":0.72},{"a":71.3,"b":72.3,"l":0,"h":65,"v":0.72},{"a":71.3,"b":72.3,"l":65,"h":100,"v":0.92},{"a":72.3,"b":74.3,"l":0,"h":100,"v":0.7},{"a":74.3,"b":75.3,"l":0,"h":100,"v":0.65},{"a":75.3,"b":76.3,"l":0,"h":45,"v":0.72},{"a":75.3,"b":76.3,"l":45,"h":100,"v":0.85},{"a":76.3,"b":77.3,"l":0,"h":100,"v":0.66},{"a":77.3,"b":78.4,"l":0,"h":25,"v":0.72},{"a":77.3,"b":78.4,"l":25,"h":65,"v":0.8},{"a":77.3,"b":78.4,"l":65,"h":100,"v":0.93},{"a":78.4,"b":79.5,"l":0,"h":100,"v":0.66},{"a":79.5,"b":80.5,"l":0,"h":45,"v":0.63},{"a":79.5,"b":80.5,"l":45,"h":100,"v":0.72},{"a":80.5,"b":81.4,"l":0,"h":95,"v":0.66},{"a":80.5,"b":81.4,"l":95,"h":100,"v":0.83},{"a":81.4,"b":82.4,"l":0,"h":100,"v":0.66},{"a":82.4,"b":83.4,"l":0,"h":55,"v":0.62},{"a":82.4,"b":83.4,"l":55,"h":75,"v":0.68},{"a":82.4,"b":83.4,"l":75,"h":100,"v":0.75},{"a":83.4,"b":84.4,"l":0,"h":85,"v":0.62},{"a":83.4,"b":84.4,"l":85,"h":100,"v":0.7},{"a":84.4,"b":85.3,"l":0,"h":95,"v":0.6},{"a":84.4,"b":85.3,"l":95,"h":100,"v":0.78},{"a":85.3,"b":86.4,"l":0,"h":35,"v":0.6},{"a":85.3,"b":86.4,"l":35,"h":100,"v":0.68},{"a":86.4,"b":87.3,"l":0,"h":45,"v":0.6},{"a":86.4,"b":87.3,"l":45,"h":100,"v":0.66},{"a":87.3,"b":88.3,"l":0,"h":100,"v":0.6},{"a":88.3,"b":89.5,"l":0,"h":100,"v":0.68}],
"F":[{"a":0.4,"b":1.5,"l":0,"h":100,"v":1.29},{"a":1.5,"b":2.5,"l":0,"h":100,"v":1.27},{"a":2.5,"b":5,"l":0,"h":100,"v":1.29},{"a":5,"b":8,"l":0,"h":100,"v":1.3},{"a":8,"b":11,"l":0,"h":100,"v":1.315},{"a":11,"b":14,"l":0,"h":100,"v":1.335},{"a":14,"b":15,"l":0,"h":5,"v":1.36},{"a":14,"b":15,"l":5,"h":45,"v":1.345},{"a":14,"b":15,"l":45,"h":100,"v":1.335},{"a":15,"b":18,"l":0,"h":100,"v":1.355},{"a":18,"b":19,"l":0,"h":5,"v":1.39},{"a":18,"b":19,"l":5,"h":65,"v":1.37},{"a":18,"b":19,"l":65,"h":100,"v":1.365},{"a":19,"b":21,"l":0,"h":15,"v":1.385},{"a":19,"b":21,"l":15,"h":85,"v":1.375},{"a":19,"b":21,"l":85,"h":100,"v":1.37},{"a":21,"b":23,"l":0,"h":55,"v":1.385},{"a":21,"b":23,"l":55,"h":100,"v":1.375},{"a":23,"b":23.6,"l":0,"h":100,"v":1.385},{"a":23.6,"b":24.7,"l":0,"h":5,"v":1.46},{"a":23.6,"b":24.7,"l":5,"h":35,"v":1.39},{"a":23.6,"b":24.7,"l":35,"h":100,"v":1.385},{"a":24.7,"b":27,"l":0,"h":75,"v":1.4},{"a":24.7,"b":27,"l":75,"h":95,"v":1.395},{"a":24.7,"b":27,"l":95,"h":100,"v":1.39},{"a":27,"b":28.5,"l":0,"h":5,"v":1.42},{"a":27,"b":28.5,"l":5,"h":35,"v":1.41},{"a":27,"b":28.5,"l":35,"h":95,"v":1.405},{"a":27,"b":28.5,"l":95,"h":100,"v":1.4},{"a":28.5,"b":30,"l":0,"h":15,"v":1.43},{"a":28.5,"b":30,"l":15,"h":35,"v":1.42},{"a":28.5,"b":30,"l":35,"h":100,"v":1.41},{"a":30,"b":31,"l":0,"h":45,"v":1.43},{"a":30,"b":31,"l":45,"h":95,"v":1.415},{"a":30,"b":31,"l":95,"h":100,"v":1.41},{"a":31,"b":32,"l":0,"h":5,"v":1.425},{"a":31,"b":32,"l":5,"h":100,"v":1.42},{"a":32,"b":35,"l":0,"h":100,"v":1.395},{"a":35,"b":37.5,"l":0,"h":100,"v":1.38},{"a":37.5,"b":40,"l":0,"h":5,"v":1.4},{"a":37.5,"b":40,"l":5,"h":100,"v":1.39},{"a":40,"b":42,"l":0,"h":100,"v":1.4},{"a":42,"b":43,"l":0,"h":45,"v":1.425},{"a":42,"b":43,"l":45,"h":100,"v":1.405},{"a":43,"b":44,"l":0,"h":45,"v":1.43},{"a":43,"b":44,"l":45,"h":100,"v":1.42},{"a":44,"b":46,"l":0,"h":100,"v":1.43},{"a":46,"b":47,"l":0,"h":100,"v":1.425},{"a":47,"b":48,"l":0,"h":45,"v":1.425},{"a":47,"b":48,"l":45,"h":100,"v":1.405},{"a":48,"b":50,"l":0,"h":5,"v":1.4},{"a":48,"b":50,"l":5,"h":100,"v":1.39},{"a":50,"b":52,"l":0,"h":5,"v":1.395},{"a":50,"b":52,"l":5,"h":100,"v":1.385},{"a":52,"b":54,"l":0,"h":100,"v":1.38},{"a":54,"b":56,"l":0,"h":35,"v":1.39},{"a":54,"b":56,"l":35,"h":100,"v":1.395},{"a":56,"b":58,"l":0,"h":5,"v":1.415},{"a":56,"b":58,"l":5,"h":100,"v":1.405},{"a":58,"b":61,"l":0,"h":15,"v":1.43},{"a":58,"b":61,"l":15,"h":100,"v":1.42},{"a":61,"b":62,"l":0,"h":5,"v":1.425},{"a":61,"b":62,"l":5,"h":35,"v":1.42},{"a":61,"b":62,"l":35,"h":100,"v":1.41},{"a":62,"b":65.2,"l":0,"h":100,"v":1.4},{"a":65.2,"b":66.2,"l":0,"h":5,"v":1.46},{"a":65.2,"b":66.2,"l":5,"h":100,"v":1.385},{"a":66.2,"b":70,"l":0,"h":100,"v":1.375},{"a":70,"b":71,"l":0,"h":5,"v":1.39},{"a":70,"b":71,"l":5,"h":100,"v":1.37},{"a":71,"b":73,"l":0,"h":100,"v":1.365},{"a":73,"b":76,"l":0,"h":100,"v":1.345},{"a":76,"b":80,"l":0,"h":100,"v":1.335},{"a":80,"b":84,"l":0,"h":100,"v":1.315},{"a":84,"b":86,"l":0,"h":100,"v":1.3},{"a":86,"b":88,"l":0,"h":100,"v":1.28},{"a":88,"b":89.5,"l":0,"h":100,"v":1.3}],
"inf":[{"lo":0,"hi":2.5}],"two":[{"lo":0,"hi":2.5}],"c":[{"lo":1.1,"hi":1.8}]
},
"vconcat":[
{"hconcat":[
{"spacing":16,"vconcat":[
{"data":{"name":"A"},"width":610,"height":318,"title":{"text":"CDLR","orient":"left","anchor":"middle","fontSize":70,"fontWeight":"normal","offset":70,"dx":-30,"color":"black"},"mark":{"type":"rect","strokeWidth":0.6},"encoding":{"x":{"field":"a","type":"quantitative","scale":{"domain":[0,90],"nice":false},"axis":{"values":[0,10,20,30,40,50,60,70,80,90],"title":"angle","titleFontSize":19,"titleFontWeight":"bold","titlePadding":6}},"x2":{"field":"b"},"y":{"field":"l","type":"quantitative","scale":{"domain":[0,100],"nice":false},"axis":{"values":[0,20,40,60,80,100],"title":"λ","titleAngle":0,"titleFontSize":26,"titleFontStyle":"italic","titleFontWeight":"normal","titleBaseline":"middle","titleAlign":"right","titlePadding":8}},"y2":{"field":"h"},"color":{"field":"v","type":"quantitative","scale":{"domain":[0,0.833,1.667,2.5],"range":["#ffffff","#ffff00","#ff0000","#7f0000"],"interpolate":"rgb"},"legend":null},"stroke":{"field":"v","type":"quantitative","scale":{"domain":[0,0.833,1.667,2.5],"range":["#ffffff","#ffff00","#ff0000","#7f0000"],"interpolate":"rgb"},"legend":null}}},
{"data":{"name":"inf"},"width":610,"height":31,"mark":{"type":"rect","color":{"x1":0,"x2":1,"y1":0,"y2":0,"gradient":"linear","stops":[{"offset":0,"color":"#ffffff"},{"offset":0.333,"color":"#ffff00"},{"offset":0.667,"color":"#ff0000"},{"offset":1,"color":"#7f0000"}]}},"encoding":{"x":{"field":"lo","type":"quantitative","scale":{"domain":[0,2.5],"nice":false},"axis":{"values":[0,0.8,1.6,2.5],"format":".1f","title":"L∞","titleFontSize":18,"titleFontStyle":"italic","titleFontWeight":"normal","titlePadding":8}},"x2":{"field":"hi"},"y":{"datum":0,"type":"quantitative","scale":{"domain":[0,1]},"axis":null},"y2":{"datum":1}}}
]},
{"spacing":16,"vconcat":[
{"data":{"name":"B"},"width":610,"height":318,"mark":{"type":"rect","strokeWidth":0.6},"encoding":{"x":{"field":"a","type":"quantitative","scale":{"domain":[0,90],"nice":false},"axis":{"values":[0,10,20,30,40,50,60,70,80,90],"title":"angle","titleFontSize":19,"titleFontWeight":"bold","titlePadding":6}},"x2":{"field":"b"},"y":{"field":"l","type":"quantitative","scale":{"domain":[0,100],"nice":false},"axis":{"values":[0,20,40,60,80,100],"title":"λ","titleAngle":0,"titleFontSize":26,"titleFontStyle":"italic","titleFontWeight":"normal","titleBaseline":"middle","titleAlign":"right","titlePadding":8}},"y2":{"field":"h"},"color":{"field":"v","type":"quantitative","scale":{"domain":[0,0.833,1.667,2.5],"range":["#ffffff","#ffff00","#ff0000","#7f0000"],"interpolate":"rgb"},"legend":null},"stroke":{"field":"v","type":"quantitative","scale":{"domain":[0,0.833,1.667,2.5],"range":["#ffffff","#ffff00","#ff0000","#7f0000"],"interpolate":"rgb"},"legend":null}}},
{"data":{"name":"two"},"width":610,"height":31,"mark":{"type":"rect","color":{"x1":0,"x2":1,"y1":0,"y2":0,"gradient":"linear","stops":[{"offset":0,"color":"#ffffff"},{"offset":0.333,"color":"#ffff00"},{"offset":0.667,"color":"#ff0000"},{"offset":1,"color":"#7f0000"}]}},"encoding":{"x":{"field":"lo","type":"quantitative","scale":{"domain":[0,2.5],"nice":false},"axis":{"values":[0,0.8,1.6,2.5],"format":".1f","title":"L₂","titleFontSize":18,"titleFontStyle":"italic","titleFontWeight":"normal","titlePadding":8}},"x2":{"field":"hi"},"y":{"datum":0,"type":"quantitative","scale":{"domain":[0,1]},"axis":null},"y2":{"datum":1}}}
]},
{"spacing":16,"vconcat":[
{"data":{"name":"C"},"width":610,"height":318,"mark":{"type":"rect","strokeWidth":0.6},"encoding":{"x":{"field":"a","type":"quantitative","scale":{"domain":[0,90],"nice":false},"axis":{"values":[0,10,20,30,40,50,60,70,80,90],"title":"angle","titleFontSize":19,"titleFontWeight":"bold","titlePadding":6}},"x2":{"field":"b"},"y":{"field":"l","type":"quantitative","scale":{"domain":[0,100],"nice":false},"axis":{"values":[0,20,40,60,80,100],"title":"λ","titleAngle":0,"titleFontSize":26,"titleFontStyle":"italic","titleFontWeight":"normal","titleBaseline":"middle","titleAlign":"right","titlePadding":8}},"y2":{"field":"h"},"color":{"field":"v","type":"quantitative","scale":{"domain":[1.1,1.333,1.567,1.8],"range":["#ffffff","#ffff00","#ff0000","#7f0000"],"interpolate":"rgb"},"legend":null},"stroke":{"field":"v","type":"quantitative","scale":{"domain":[1.1,1.333,1.567,1.8],"range":["#ffffff","#ffff00","#ff0000","#7f0000"],"interpolate":"rgb"},"legend":null}}},
{"data":{"name":"c"},"width":610,"height":31,"mark":{"type":"rect","color":{"x1":0,"x2":1,"y1":0,"y2":0,"gradient":"linear","stops":[{"offset":0,"color":"#ffffff"},{"offset":0.333,"color":"#ffff00"},{"offset":0.667,"color":"#ff0000"},{"offset":1,"color":"#7f0000"}]}},"encoding":{"x":{"field":"lo","type":"quantitative","scale":{"domain":[1.1,1.8],"nice":false},"axis":{"values":[1.2,1.4,1.6,1.8],"format":".1f","title":"Lc","titleFontSize":18,"titleFontStyle":"italic","titleFontWeight":"normal","titlePadding":8}},"x2":{"field":"hi"},"y":{"datum":0,"type":"quantitative","scale":{"domain":[0,1]},"axis":null},"y2":{"datum":1}}}
]}
],"spacing":91,"resolve":{"scale":{"color":"independent","stroke":"independent"}}},
{"hconcat":[
{"spacing":16,"vconcat":[
{"data":{"name":"D"},"width":610,"height":318,"title":{"text":"CBDR","orient":"left","anchor":"middle","fontSize":70,"fontWeight":"normal","offset":70,"dx":-32,"color":"black"},"mark":{"type":"rect","strokeWidth":0.6},"encoding":{"x":{"field":"a","type":"quantitative","scale":{"domain":[0,90],"nice":false},"axis":{"values":[0,10,20,30,40,50,60,70,80,90],"title":"angle","titleFontSize":19,"titleFontWeight":"bold","titlePadding":6}},"x2":{"field":"b"},"y":{"field":"l","type":"quantitative","scale":{"domain":[0,100],"nice":false},"axis":{"values":[0,20,40,60,80,100],"title":"λ","titleAngle":0,"titleFontSize":26,"titleFontStyle":"italic","titleFontWeight":"normal","titleBaseline":"middle","titleAlign":"right","titlePadding":8}},"y2":{"field":"h"},"color":{"field":"v","type":"quantitative","scale":{"domain":[0,0.833,1.667,2.5],"range":["#ffffff","#ffff00","#ff0000","#7f0000"],"interpolate":"rgb"},"legend":null},"stroke":{"field":"v","type":"quantitative","scale":{"domain":[0,0.833,1.667,2.5],"range":["#ffffff","#ffff00","#ff0000","#7f0000"],"interpolate":"rgb"},"legend":null}}},
{"data":{"name":"inf"},"width":610,"height":31,"encoding":{"y":{"datum":0,"type":"quantitative","scale":{"domain":[0,1]},"axis":null}},"layer":[
{"mark":{"type":"rect","color":{"x1":0,"x2":1,"y1":0,"y2":0,"gradient":"linear","stops":[{"offset":0,"color":"#ffffff"},{"offset":0.333,"color":"#ffff00"},{"offset":0.667,"color":"#ff0000"},{"offset":1,"color":"#7f0000"}]}},"encoding":{"x":{"field":"lo","type":"quantitative","scale":{"domain":[0,2.5],"nice":false},"axis":{"values":[0,0.8,1.6,2.5],"format":".1f","title":"L∞","titleFontSize":18,"titleFontStyle":"italic","titleFontWeight":"normal","titlePadding":8}},"x2":{"field":"hi"},"y2":{"datum":1}}},
{"mark":{"type":"text","text":"L","fontSize":60,"fontStyle":"italic","align":"left","baseline":"alphabetic"},"encoding":{"x":{"datum":0.676,"type":"quantitative"},"y":{"datum":-4.097,"type":"quantitative"}}},
{"mark":{"type":"text","text":"∞","fontSize":50,"align":"left","baseline":"alphabetic"},"encoding":{"x":{"datum":0.824,"type":"quantitative"},"y":{"datum":-4.2,"type":"quantitative"}}},
{"mark":{"type":"text","text":"-errors","fontSize":60,"align":"left","baseline":"alphabetic"},"encoding":{"x":{"datum":1.0,"type":"quantitative"},"y":{"datum":-4.097,"type":"quantitative"}}}
]}
]},
{"spacing":16,"vconcat":[
{"data":{"name":"E"},"width":610,"height":318,"mark":{"type":"rect","strokeWidth":0.6},"encoding":{"x":{"field":"a","type":"quantitative","scale":{"domain":[0,90],"nice":false},"axis":{"values":[0,10,20,30,40,50,60,70,80,90],"title":"angle","titleFontSize":19,"titleFontWeight":"bold","titlePadding":6}},"x2":{"field":"b"},"y":{"field":"l","type":"quantitative","scale":{"domain":[0,100],"nice":false},"axis":{"values":[0,20,40,60,80,100],"title":"λ","titleAngle":0,"titleFontSize":26,"titleFontStyle":"italic","titleFontWeight":"normal","titleBaseline":"middle","titleAlign":"right","titlePadding":8}},"y2":{"field":"h"},"color":{"field":"v","type":"quantitative","scale":{"domain":[0,0.833,1.667,2.5],"range":["#ffffff","#ffff00","#ff0000","#7f0000"],"interpolate":"rgb"},"legend":null},"stroke":{"field":"v","type":"quantitative","scale":{"domain":[0,0.833,1.667,2.5],"range":["#ffffff","#ffff00","#ff0000","#7f0000"],"interpolate":"rgb"},"legend":null}}},
{"data":{"name":"two"},"width":610,"height":31,"encoding":{"y":{"datum":0,"type":"quantitative","scale":{"domain":[0,1]},"axis":null}},"layer":[
{"mark":{"type":"rect","color":{"x1":0,"x2":1,"y1":0,"y2":0,"gradient":"linear","stops":[{"offset":0,"color":"#ffffff"},{"offset":0.333,"color":"#ffff00"},{"offset":0.667,"color":"#ff0000"},{"offset":1,"color":"#7f0000"}]}},"encoding":{"x":{"field":"lo","type":"quantitative","scale":{"domain":[0,2.5],"nice":false},"axis":{"values":[0,0.8,1.6,2.5],"format":".1f","title":"L₂","titleFontSize":18,"titleFontStyle":"italic","titleFontWeight":"normal","titlePadding":8}},"x2":{"field":"hi"},"y2":{"datum":1}}},
{"mark":{"type":"text","text":"L","fontSize":60,"fontStyle":"italic","align":"left","baseline":"alphabetic"},"encoding":{"x":{"datum":0.717,"type":"quantitative"},"y":{"datum":-4.097,"type":"quantitative"}}},
{"mark":{"type":"text","text":"2","fontSize":38,"align":"left","baseline":"alphabetic"},"encoding":{"x":{"datum":0.86,"type":"quantitative"},"y":{"datum":-4.2,"type":"quantitative"}}},
{"mark":{"type":"text","text":"-errors","fontSize":60,"align":"left","baseline":"alphabetic"},"encoding":{"x":{"datum":0.947,"type":"quantitative"},"y":{"datum":-4.097,"type":"quantitative"}}}
]}
]},
{"spacing":16,"vconcat":[
{"data":{"name":"F"},"width":610,"height":318,"mark":{"type":"rect","strokeWidth":0.6},"encoding":{"x":{"field":"a","type":"quantitative","scale":{"domain":[0,90],"nice":false},"axis":{"values":[0,10,20,30,40,50,60,70,80,90],"title":"angle","titleFontSize":19,"titleFontWeight":"bold","titlePadding":6}},"x2":{"field":"b"},"y":{"field":"l","type":"quantitative","scale":{"domain":[0,100],"nice":false},"axis":{"values":[0,20,40,60,80,100],"title":"λ","titleAngle":0,"titleFontSize":26,"titleFontStyle":"italic","titleFontWeight":"normal","titleBaseline":"middle","titleAlign":"right","titlePadding":8}},"y2":{"field":"h"},"color":{"field":"v","type":"quantitative","scale":{"domain":[1.1,1.333,1.567,1.8],"range":["#ffffff","#ffff00","#ff0000","#7f0000"],"interpolate":"rgb"},"legend":null},"stroke":{"field":"v","type":"quantitative","scale":{"domain":[1.1,1.333,1.567,1.8],"range":["#ffffff","#ffff00","#ff0000","#7f0000"],"interpolate":"rgb"},"legend":null}}},
{"data":{"name":"c"},"width":610,"height":31,"encoding":{"y":{"datum":0,"type":"quantitative","scale":{"domain":[0,1]},"axis":null}},"layer":[
{"mark":{"type":"rect","color":{"x1":0,"x2":1,"y1":0,"y2":0,"gradient":"linear","stops":[{"offset":0,"color":"#ffffff"},{"offset":0.333,"color":"#ffff00"},{"offset":0.667,"color":"#ff0000"},{"offset":1,"color":"#7f0000"}]}},"encoding":{"x":{"field":"lo","type":"quantitative","scale":{"domain":[1.1,1.8],"nice":false},"axis":{"values":[1.2,1.4,1.6,1.8],"format":".1f","title":"Lc","titleFontSize":18,"titleFontStyle":"italic","titleFontWeight":"normal","titlePadding":8}},"x2":{"field":"hi"},"y2":{"datum":1}}},
{"mark":{"type":"text","text":"L","fontSize":60,"fontStyle":"italic","align":"left","baseline":"alphabetic"},"encoding":{"x":{"datum":1.303,"type":"quantitative"},"y":{"datum":-4.097,"type":"quantitative"}}},
{"mark":{"type":"text","text":"c","fontSize":38,"fontStyle":"italic","align":"left","baseline":"alphabetic"},"encoding":{"x":{"datum":1.35,"type":"quantitative"},"y":{"datum":-4.2,"type":"quantitative"}}},
{"mark":{"type":"text","text":"-errors","fontSize":60,"align":"left","baseline":"alphabetic"},"encoding":{"x":{"datum":1.37,"type":"quantitative"},"y":{"datum":-4.097,"type":"quantitative"}}}
]}
]}
],"spacing":91,"resolve":{"scale":{"color":"independent","stroke":"independent"}}}
]}
